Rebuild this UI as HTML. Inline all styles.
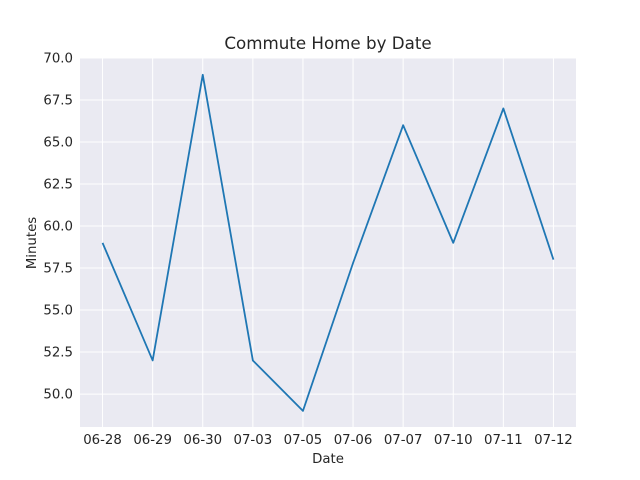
<!DOCTYPE html>
<html><head><meta charset="utf-8"><style>
body{margin:0;background:#fff;font-family:"DejaVu Sans","Liberation Sans",sans-serif;}
</style></head><body>
<svg id="chart" width="640" height="480" style="display:block">
<rect x="0" y="0" width="640" height="480" fill="#fff"/>
<rect x="80" y="58" width="496" height="369" fill="#eaeaf2"/>
<g id="grid"></g>
<g id="ticks" font-size="13.3" fill="#262626"></g>
<text x="328" y="49" text-anchor="middle" font-size="16.7" fill="#262626">Commute Home by Date</text>
<text x="328" y="463" text-anchor="middle" font-size="13.3" fill="#262626">Date</text>
<text x="36" y="243" text-anchor="middle" font-size="13.3" fill="#262626" transform="rotate(-90 36 243)">Minutes</text>
<path id="line" fill="none" stroke="#1f77b4" stroke-width="1.8" stroke-linejoin="round"/>
</svg>
<script>
const categories=["06-28","06-29","06-30","07-03","07-05","07-06","07-07","07-10","07-11","07-12"];
const minutes=[59,52,69,52,49,57.8,66,59,67,58];
const yTicks=[50,52.5,55,57.5,60,62.5,65,67.5,70];
const yTickLabels=["50.0","52.5","55.0","57.5","60.0","62.5","65.0","67.5","70.0"];
const L=80,R=576,T=58,B=427,yMin=48.04,yMax=70;
const step=(R-L)/(categories.length-1+0.9);
function xs(i){return L+step*0.45+i*step;}
function ys(v){return B-(v-yMin)/(yMax-yMin)*(B-T);}
const ns="http://www.w3.org/2000/svg";
const grid=document.getElementById('grid'),ticks=document.getElementById('ticks');
yTicks.forEach((v,i)=>{
 const l=document.createElementNS(ns,'line');
 l.setAttribute('x1',L);l.setAttribute('x2',R);l.setAttribute('y1',ys(v));l.setAttribute('y2',ys(v));
 l.setAttribute('stroke','#fff');l.setAttribute('stroke-width','1');
 
 
 grid.appendChild(l);
 const t=document.createElementNS(ns,'text');
 t.setAttribute('x',L-7);t.setAttribute('y',ys(v)+4.5);t.setAttribute('text-anchor','end');
 t.textContent=yTickLabels[i];
 
 
 ticks.appendChild(t);
});
categories.forEach((c,i)=>{
 const l=document.createElementNS(ns,'line');
 l.setAttribute('x1',xs(i));l.setAttribute('x2',xs(i));l.setAttribute('y1',T);l.setAttribute('y2',B);
 l.setAttribute('stroke','#fff');l.setAttribute('stroke-width','1');
 
 
 grid.appendChild(l);
 const t=document.createElementNS(ns,'text');
 t.setAttribute('x',xs(i));t.setAttribute('y',B+17);t.setAttribute('text-anchor','middle');
 t.textContent=c;
 
 
 ticks.appendChild(t);
});
document.getElementById('line').setAttribute('d',minutes.map((v,i)=>(i?'L':'M')+xs(i)+','+ys(v)).join(' '));
</script>
</body></html>
